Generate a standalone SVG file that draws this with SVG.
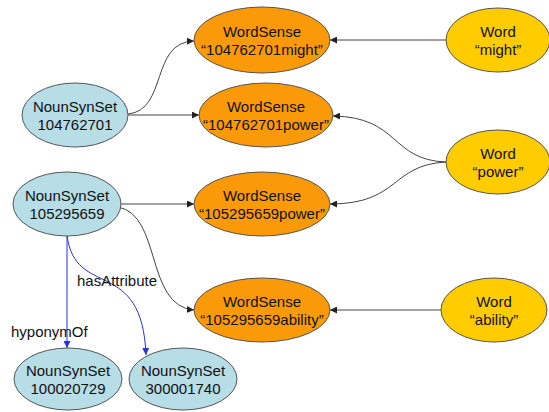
<svg xmlns="http://www.w3.org/2000/svg" width="549" height="412" viewBox="0 0 549 412">
<defs>
<marker id="ah" viewBox="0 0 10 10" refX="10" refY="5" markerWidth="7" markerHeight="7" markerUnits="userSpaceOnUse" orient="auto"><path d="M0,0 L10,5 L0,10 z" fill="#222"/></marker>
<marker id="ahb" viewBox="0 0 10 10" refX="10" refY="5" markerWidth="7" markerHeight="7" markerUnits="userSpaceOnUse" orient="auto"><path d="M0,0 L10,5 L0,10 z" fill="#2233dd"/></marker>
</defs>
<style>
.syn{fill:#b7dde6;stroke:#555;stroke-width:1}
.ws{fill:#fb9a08;stroke:#555;stroke-width:1}
.w{fill:#ffcc00;stroke:#555;stroke-width:1}
text{font-family:"Liberation Sans",Arial,sans-serif;font-size:15px;fill:#111;text-anchor:middle}
.lbl{text-anchor:start}
.e{fill:none;stroke:#444;stroke-width:1;marker-end:url(#ah)}
.b{fill:none;stroke:#2233dd;stroke-width:1;marker-end:url(#ahb)}
</style>
<g id="connectors">
<path class="e" d="M128,114 C168,110 150,42 194,41"/>
<path class="e" d="M128,115 L199,115"/>
<path class="e" d="M446,40 L330,40"/>
<path class="e" d="M446,162 C390,160 400,117 333,116"/>
<path class="e" d="M446,162 C390,165 400,204 330,204"/>
<path class="e" d="M120,204 L194,204"/>
<path class="e" d="M118,207 C162,215 145,306 194,310"/>
<path class="e" d="M441,310 L330,310"/>
<path class="b" d="M67,235 L67,348"/>
<path class="b" d="M67,235 C75,300 142,255 146,355"/>
<text class="lbl" x="77" y="286">hasAttribute</text>
<text class="lbl" x="11" y="337">hyponymOf</text>
</g>
<g id="syn104762701"><ellipse class="syn" cx="75" cy="115" rx="53" ry="32"/><text x="75" y="112">NounSynSet</text><text x="75" y="130">104762701</text></g>
<g id="syn105295659"><ellipse class="syn" cx="67" cy="204" rx="54" ry="32"/><text x="67" y="201">NounSynSet</text><text x="67" y="219">105295659</text></g>
<g id="syn100020729"><ellipse class="syn" cx="68" cy="379" rx="54" ry="31"/><text x="68" y="376">NounSynSet</text><text x="68" y="394">100020729</text></g>
<g id="syn300001740"><ellipse class="syn" cx="183" cy="379" rx="54" ry="31"/><text x="183" y="376">NounSynSet</text><text x="183" y="394">300001740</text></g>
<g id="wsMight"><ellipse class="ws" cx="262" cy="40" rx="68" ry="33"/><text x="262" y="37">WordSense</text><text x="262" y="55">“104762701might”</text></g>
<g id="wsPower1"><ellipse class="ws" cx="266" cy="115" rx="67" ry="32"/><text x="266" y="112">WordSense</text><text x="266" y="130">“104762701power”</text></g>
<g id="wsPower2"><ellipse class="ws" cx="262" cy="204" rx="68" ry="32"/><text x="262" y="201">WordSense</text><text x="262" y="219">“105295659power”</text></g>
<g id="wsAbility"><ellipse class="ws" cx="262" cy="310" rx="68" ry="32"/><text x="262" y="307">WordSense</text><text x="262" y="325">“105295659ability”</text></g>
<g id="wMight"><ellipse class="w" cx="498" cy="40" rx="52" ry="32"/><text x="498" y="37">Word</text><text x="498" y="55">“might”</text></g>
<g id="wPower"><ellipse class="w" cx="498" cy="162" rx="52" ry="32"/><text x="498" y="159">Word</text><text x="498" y="177">“power”</text></g>
<g id="wAbility"><ellipse class="w" cx="494" cy="310" rx="53" ry="32"/><text x="494" y="307">Word</text><text x="494" y="325">“ability”</text></g>
</svg>
